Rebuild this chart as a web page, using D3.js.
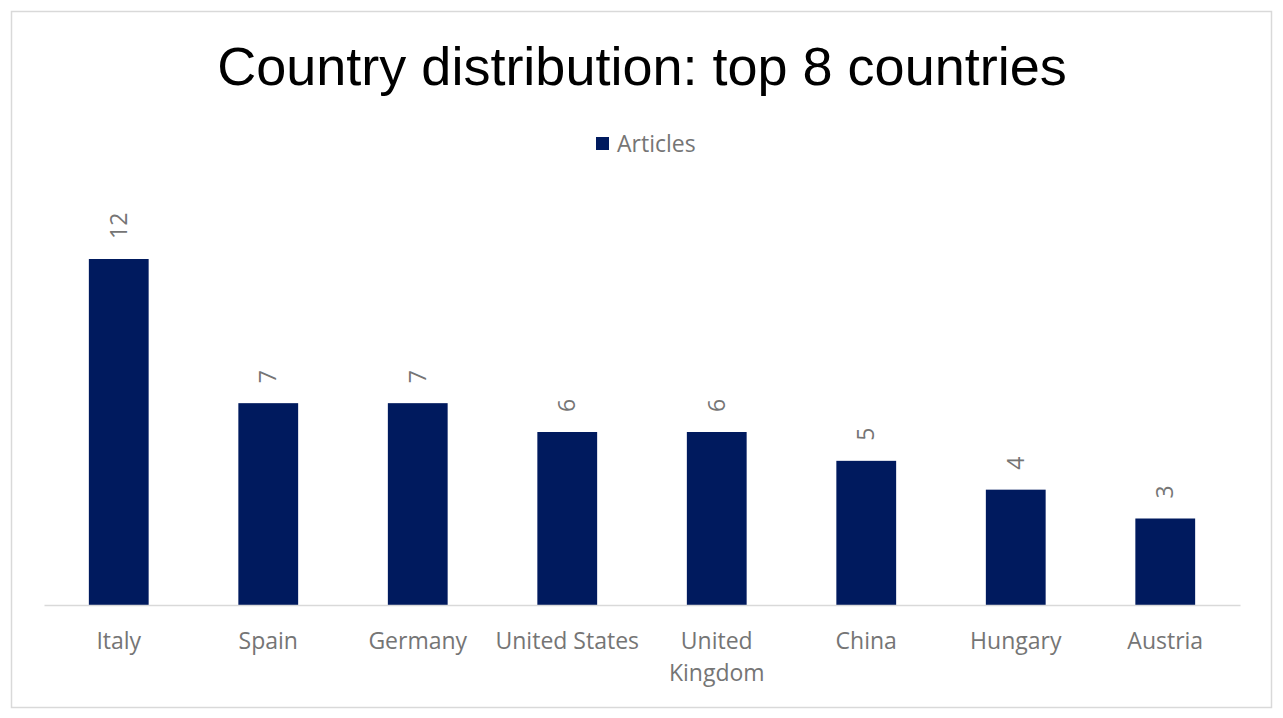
<!DOCTYPE html>
<html>
<head>
<meta charset="utf-8">
<script src="https://cdn.jsdelivr.net/npm/d3@7"></script>
<style>
  body { margin: 0; background: #fff; }
</style>
</head>
<body>
<div id="chart"></div>
<script>
// chart data
const countries = ["Italy", "Spain", "Germany", "United States", "United Kingdom", "China", "Hungary", "Austria"];
const articles = [12, 7, 7, 6, 6, 5, 4, 3];
const seriesName = "Articles";

const width = 1283, height = 718;
const margin = {top: 105, right: 43, bottom: 113, left: 44};
const barColor = "#001a5e";
const textGray = "#757575";
const font = "'Open Sans', sans-serif";
const fontSize = 23;

const svg = d3.select("#chart")
  .append("svg")
  .attr("width", width)
  .attr("height", height);

// outer frame
svg.append("rect")
  .attr("x", 11.5).attr("y", 11.5)
  .attr("width", 1260).attr("height", 696)
  .attr("fill", "#fff")
  .attr("stroke", "#d9d9d9")
  .attr("stroke-width", 1.5);

svg.append("text")
  .attr("x", 642).attr("y", 85)
  .attr("text-anchor", "middle")
  .attr("font-family", "'Liberation Sans', Arial, sans-serif")
  .attr("font-size", 54)
  .attr("fill", "#000")
  .text("Country distribution: top 8 countries");

// legend
const legend = svg.append("g").attr("transform", "translate(596,137)");
legend.append("rect").attr("width", 13).attr("height", 13).attr("fill", barColor);
legend.append("text")
  .attr("x", 21).attr("y", 6.5).attr("dy", "0.35em")
  .attr("font-family", font).attr("font-size", fontSize)
  .attr("fill", textGray)
  .text(seriesName);

const xScale = d3.scaleBand()
  .domain(countries)
  .range([margin.left, width - margin.right])
  .paddingInner(0.6)
  .paddingOuter(0.3);

const yScale = d3.scaleLinear()
  .domain([0, 12])
  .range([605, 259]);

svg.selectAll(".bar")
  .data(articles)
  .enter()
  .append("rect")
  .attr("class", "bar")
  .attr("x", (d, i) => xScale(countries[i]))
  .attr("y", d => yScale(d))
  .attr("width", xScale.bandwidth())
  .attr("height", d => yScale(0) - yScale(d))
  .attr("fill", barColor);

// value labels, rotated
svg.selectAll(".lbl")
  .data(articles)
  .enter()
  .append("text")
  .attr("class", "lbl")
  .attr("transform", (d, i) => `translate(${xScale(countries[i]) + xScale.bandwidth() / 2}, ${yScale(d) - 20}) rotate(-90)`)
  .attr("dy", "0.35em")
  .attr("text-anchor", "start")
  .attr("font-family", font).attr("font-size", fontSize)
  .attr("fill", textGray)
  .text(d => d);

// x axis
const xAxis = svg.append("g")
  .attr("transform", `translate(0,${yScale(0)})`)
  .call(d3.axisBottom(xScale).tickSize(0).tickSizeOuter(0));
xAxis.select(".domain").attr("stroke", "#d9d9d9").attr("stroke-width", 1.5);
xAxis.selectAll(".tick text").remove();

// wrap long names like the original
const wrapped = {"United Kingdom": ["United", "Kingdom"]};
xAxis.selectAll(".tick").each(function(d) {
  const lines = wrapped[d] || [d];
  const t = d3.select(this).append("text")
    .attr("text-anchor", "middle")
    .attr("font-family", font).attr("font-size", fontSize)
    .attr("fill", textGray);
  lines.forEach((l, j) => {
    t.append("tspan").attr("x", 0).attr("y", 44 + j * 32).text(l);
  });
});
</script>
</body>
</html>
